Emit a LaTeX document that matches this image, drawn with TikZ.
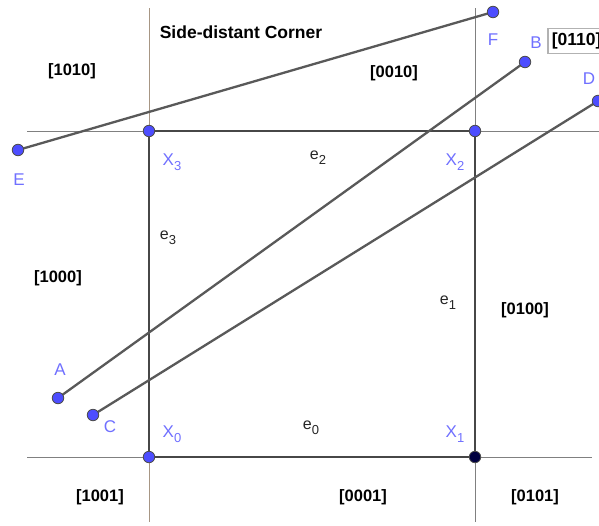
\documentclass[tikz,border=0pt]{standalone}
\usepackage{fontspec}
\setmainfont{Liberation Sans}
\newcommand{\sbs}[1]{\raisebox{-0.55ex}{\fontsize{13}{15}\selectfont #1}}
\begin{document}
\begin{tikzpicture}[x=1pt,y=-1pt,
  pt/.style={circle,fill=ptblue,draw=black!70,line width=0.8pt,inner sep=0pt,minimum size=11.5pt},
  ptlab/.style={text=lblue,font=\fontsize{17}{19}\selectfont,inner sep=0pt},
  elab/.style={text=black!85,font=\fontsize{16}{18}\selectfont,inner sep=0pt},
  region/.style={font=\bfseries\fontsize{16.5}{18}\selectfont,inner sep=0pt},
  seg/.style={draw=black!65,line width=2.3pt},
  edge/.style={draw=black!72,line width=1.8pt},
  axis/.style={draw=black!50,line width=0.9pt}]
\definecolor{ptblue}{HTML}{4D4DFF}
\definecolor{lblue}{HTML}{7070FF}
\useasboundingbox[fill=white] (0,0) rectangle (599,525);
% thin lines
\coordinate (hl3) at (27,131); \coordinate (hr3) at (599,131);
\coordinate (hl0) at (27,457); \coordinate (hr0) at (592,457);
\coordinate (vt0) at (149,8); \coordinate (vb0) at (149,522);
\coordinate (vt1) at (475,8); \coordinate (vb1) at (475,522);
\draw[axis] (hl3) -- (hr3);
\draw[axis] (hl0) -- (hr0);
\draw[axis,draw=brown!50!black!55] (vt0) -- (vb0);
\draw[axis] (vt1) -- (vb1);
% square
\coordinate (x0) at (149,457);
\coordinate (x1) at (475,457);
\coordinate (x2) at (475,131);
\coordinate (x3) at (149,131);
\draw[edge] (x0) -- (x1) -- (x2) -- (x3) -- cycle;
% segments
\coordinate (E) at (18,150); \coordinate (F) at (493,12);
\coordinate (A) at (58,398); \coordinate (B) at (525,62);
\coordinate (C) at (93,415); \coordinate (D) at (598,101);
\draw[seg] (E) -- (F);
\draw[seg] (A) -- (B);
\draw[seg] (C) -- (D);
% points
\foreach \p in {E,F,A,B,C,D,x0,x2,x3} \node[pt] (n\p) at (\p) {};
\node[pt,fill=black!75!blue] (nx1) at (x1) {};
% point labels
\node[ptlab] (lE) at (19,180) {E};
\node[ptlab] (lF) at (493,40) {F};
\node[ptlab] (lB) at (536,43) {B};
\node[ptlab] (lD) at (589,79) {D};
\node[ptlab] (lA) at (60,370) {A};
\node[ptlab] (lC) at (110,427) {C};
\node[ptlab] (lX3) at (172,162) {X\sbs{3}};
\node[ptlab] (lX2) at (455,162) {X\sbs{2}};
\node[ptlab] (lX0) at (172,434) {X\sbs{0}};
\node[ptlab] (lX1) at (455,434) {X\sbs{1}};
% edge labels
\node[elab] (le2) at (318,158) {e\sbs{2}};
\node[elab] (le3) at (168,238) {e\sbs{3}};
\node[elab] (le1) at (448,303) {e\sbs{1}};
\node[elab] (le0) at (311,428) {e\sbs{0}};
% regions
\node[font=\bfseries\fontsize{17.5}{19}\selectfont] (title) at (241,32) {Side-distant Corner};
\node[region] (r1010) at (72,71) {[1010]};
\node[region] (r0010) at (394,73) {[0010]};
\node[region] (r1000) at (58,278) {[1000]};
\node[region] (r0100) at (525,310) {[0100]};
\node[region] (r1001) at (100,497) {[1001]};
\node[region] (r0001) at (363,497) {[0001]};
\node[region] (r0101) at (535,497) {[0101]};
\node[region,draw=black!30,line width=1.5pt,fill=white,anchor=west,inner xsep=4pt,minimum height=25pt,font=\bfseries\fontsize{17.5}{19}\selectfont] (r0110) at (547,41) {[0110]};
\end{tikzpicture}
\end{document}
